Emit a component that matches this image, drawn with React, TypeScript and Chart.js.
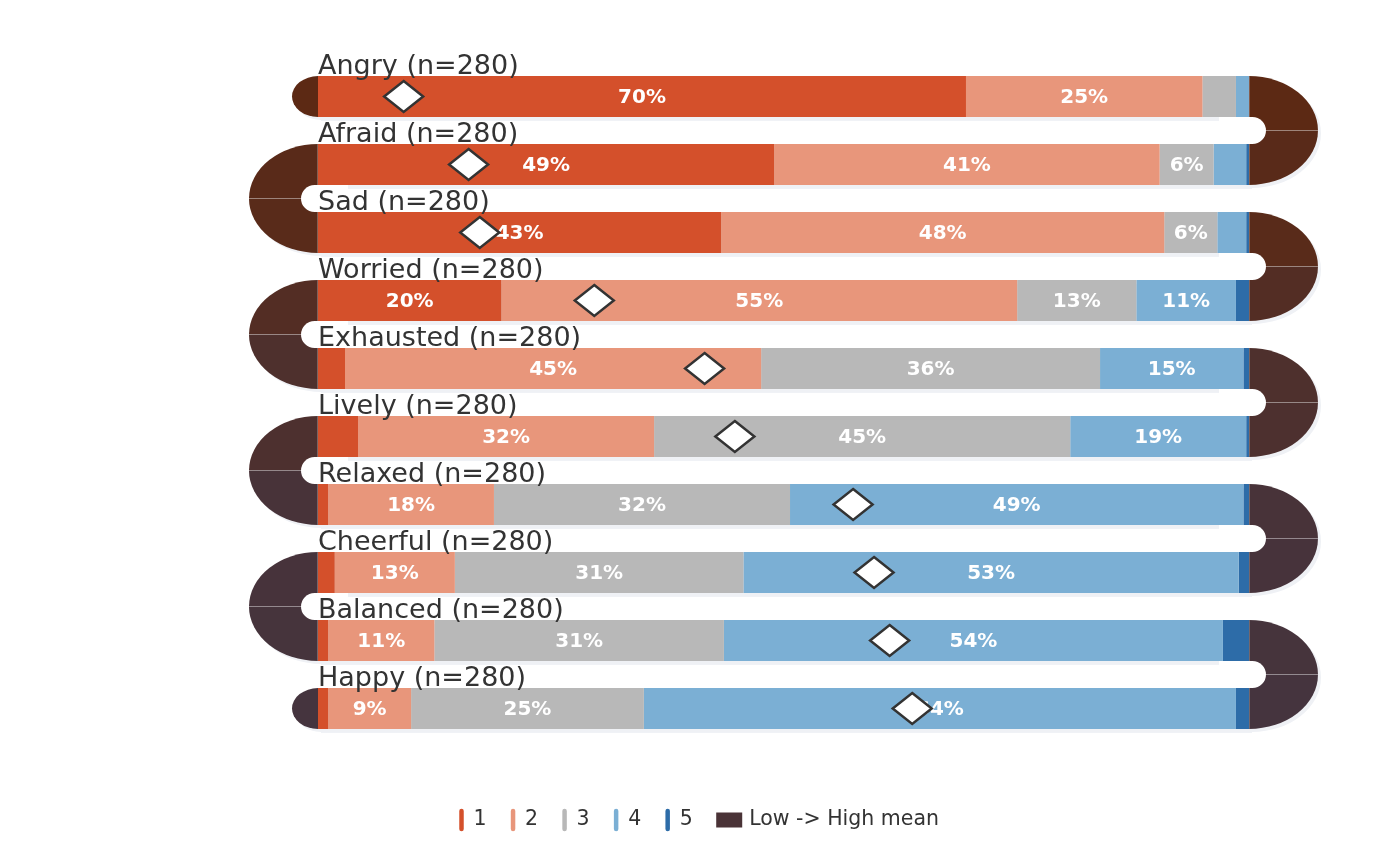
import { useEffect, useRef } from 'react';
import { Chart, registerables } from 'chart.js';

Chart.register(...registerables);

// категории и доли ответов (в процентах) по уровням 1..5
const CATEGORIES = ['Angry', 'Afraid', 'Sad', 'Worried', 'Exhausted', 'Lively', 'Relaxed', 'Cheerful', 'Balanced', 'Happy'];
const SAMPLE_N = [280, 280, 280, 280, 280, 280, 280, 280, 280, 280];
const LEVELS = ['1', '2', '3', '4', '5'];
const P1 = [69.6, 49.0, 43.3, 19.7, 2.9, 4.3, 1.1, 1.8, 1.1, 1.1];
const P2 = [25.4, 41.4, 47.6, 55.4, 44.7, 31.8, 17.8, 12.9, 11.4, 8.9];
const P3 = [3.6, 5.8, 5.7, 12.8, 36.4, 44.7, 31.8, 31.0, 31.1, 25.0];
const P4 = [1.4, 3.5, 3.1, 10.7, 15.4, 18.9, 48.7, 53.2, 53.6, 63.6];
const P5 = [0, 0.3, 0.3, 1.4, 0.6, 0.3, 0.6, 1.1, 2.8, 1.4];
const SERIES = [P1, P2, P3, P4, P5];

const LEVEL_COLORS = ['#d4502b', '#e8967b', '#b8b8b8', '#7bafd4', '#2d6ca8'];
const LOW_MEAN_COLOR = [92, 41, 20];
const HIGH_MEAN_COLOR = [69, 52, 62];
const LEGEND_MEAN_COLOR = '#4a3337';
const FONT = '"DejaVu Sans", sans-serif';

// среднее по шкале 1..5
const MEANS = CATEGORIES.map((_, i) => SERIES.reduce((s, p, k) => s + (k + 1) * p[i], 0) / 100);

const meanColor = (m: number) => {
  const lo = Math.min(...MEANS);
  const hi = Math.max(...MEANS);
  const t = (m - lo) / (hi - lo);
  const c = LOW_MEAN_COLOR.map((v, k) => Math.round(v + (HIGH_MEAN_COLOR[k] - v) * t));
  return `rgb(${c[0]}, ${c[1]}, ${c[2]})`;
};

const CAP_RX = 69;
const END_RX = 26;
const SHADOW = '#eff1f5';

const snakePlugin = {
  id: 'snake',
  beforeDatasetsDraw(chart: any) {
    const { ctx, scales } = chart;
    const left = scales.x.getPixelForValue(0);
    const right = scales.x.getPixelForValue(100);
    const rows = chart.getDatasetMeta(0).data.map((el: any) => {
      const { y, height } = el.getProps(['y', 'height'], true);
      return { top: y - height / 2, bottom: y + height / 2, y, h: height };
    });
    const n = rows.length;
    ctx.save();

    // тени под полосами
    ctx.fillStyle = SHADOW;
    rows.forEach((r: any) => ctx.fillRect(left + 3, r.top + 4, right - left, r.h));

    const quarter = (cx: number, cy: number, rx: number, ry: number, a0: number, a1: number, color: string) => {
      ctx.beginPath();
      ctx.moveTo(cx, cy);
      ctx.ellipse(cx, cy, rx, ry, 0, a0, a1, false);
      ctx.closePath();
      ctx.fillStyle = color;
      ctx.fill();
    };

    for (let i = 0; i < n - 1; i++) {
      const isRight = i % 2 === 0;
      const cx = isRight ? right : left;
      const cy = (rows[i].top + rows[i + 1].bottom) / 2;
      const ry = (rows[i + 1].bottom - rows[i].top) / 2;
      const rx = CAP_RX;
      const topA = isRight ? [-Math.PI / 2, 0] : [Math.PI, Math.PI * 1.5];
      const botA = isRight ? [0, Math.PI / 2] : [Math.PI / 2, Math.PI];
      // тень
      ctx.beginPath();
      ctx.ellipse(cx + 3, cy + 3, rx, ry, 0, isRight ? -Math.PI / 2 : Math.PI / 2, isRight ? Math.PI / 2 : Math.PI * 1.5, false);
      ctx.closePath();
      ctx.fillStyle = SHADOW;
      ctx.fill();
      quarter(cx, cy, rx, ry, topA[0], topA[1], meanColor(MEANS[i]));
      quarter(cx, cy, rx, ry, botA[0], botA[1], meanColor(MEANS[i + 1]));
      // швы
      ctx.strokeStyle = 'rgba(255,255,255,0.25)';
      ctx.lineWidth = 1;
      ctx.beginPath();
      ctx.moveTo(cx, cy);
      ctx.lineTo(isRight ? cx + rx : cx - rx, cy);
      ctx.moveTo(cx + (isRight ? 0.5 : -0.5), rows[i].top);
      ctx.lineTo(cx + (isRight ? 0.5 : -0.5), rows[i + 1].bottom);
      ctx.stroke();
      // белый просвет
      const gy = rows[i].bottom;
      const gh = rows[i + 1].top - rows[i].bottom;
      const gr = gh / 2;
      ctx.fillStyle = '#ffffff';
      ctx.beginPath();
      if (isRight) ctx.roundRect(right - 30, gy, 47, gh, [0, gr, gr, 0]);
      else ctx.roundRect(left - 17, gy, 47, gh, [gr, 0, 0, gr]);
      ctx.fill();
    }

    // концевые полукруги
    const ends = [
      { r: rows[0], m: MEANS[0], isRight: !(0 % 2 === 0) },
      { r: rows[n - 1], m: MEANS[n - 1], isRight: !((n - 2) % 2 === 0) },
    ];
    ends.forEach(({ r, m, isRight }) => {
      const cx = isRight ? right : left;
      ctx.beginPath();
      ctx.ellipse(cx + 3, r.y + 3, END_RX, r.h / 2, 0, isRight ? -Math.PI / 2 : Math.PI / 2, isRight ? Math.PI / 2 : Math.PI * 1.5, false);
      ctx.closePath();
      ctx.fillStyle = SHADOW;
      ctx.fill();
      ctx.beginPath();
      ctx.ellipse(cx, r.y, END_RX, r.h / 2, 0, isRight ? -Math.PI / 2 : Math.PI / 2, isRight ? Math.PI / 2 : Math.PI * 1.5, false);
      ctx.closePath();
      ctx.fillStyle = meanColor(m);
      ctx.fill();
    });
    ctx.restore();
  },
  afterDatasetsDraw(chart: any) {
    const { ctx, scales } = chart;
    const left = scales.x.getPixelForValue(0);
    ctx.save();

    // подписи процентов
    ctx.font = `bold 20px ${FONT}`;
    ctx.fillStyle = '#ffffff';
    ctx.textAlign = 'center';
    ctx.textBaseline = 'middle';
    chart.data.datasets.forEach((ds: any, di: number) => {
      chart.getDatasetMeta(di).data.forEach((el: any, j: number) => {
        const v = ds.data[j];
        if (v < 5) return;
        const { x, y, base } = el.getProps(['x', 'y', 'base'], true);
        ctx.fillText(`${Math.round(v)}%`, (x + base) / 2, y + 1);
      });
    });

    // ромбы средних
    const meta = chart.getDatasetMeta(0);
    MEANS.forEach((m, i) => {
      const { y, height } = meta.data[i].getProps(['y', 'height'], true);
      const x = scales.x.getPixelForValue(((m - 1) / 4) * 100);
      ctx.beginPath();
      ctx.moveTo(x, y - 15.5);
      ctx.lineTo(x + 19.5, y);
      ctx.lineTo(x, y + 15.5);
      ctx.lineTo(x - 19.5, y);
      ctx.closePath();
      ctx.fillStyle = '#ffffff';
      ctx.fill();
      ctx.strokeStyle = '#333333';
      ctx.lineWidth = 2.5;
      ctx.lineJoin = 'miter';
      ctx.stroke();

      // название категории
      ctx.font = `27px ${FONT}`;
      ctx.fillStyle = '#333333';
      ctx.textAlign = 'left';
      ctx.textBaseline = 'alphabetic';
      ctx.fillText(`${CATEGORIES[i]} (n=${SAMPLE_N[i]})`, left, y - height / 2 - 2.5);
    });
    ctx.restore();
  },
  afterDraw(chart: any) {
    const { ctx } = chart;
    ctx.save();
    ctx.font = `20.5px ${FONT}`;
    ctx.textBaseline = 'middle';
    ctx.textAlign = 'left';
    const cy = 820;
    let x = 461.5;
    LEVELS.forEach((lvl, k) => {
      ctx.strokeStyle = LEVEL_COLORS[k];
      ctx.lineWidth = 4.5;
      ctx.lineCap = 'round';
      ctx.beginPath();
      ctx.moveTo(x, cy - 9);
      ctx.lineTo(x, cy + 9);
      ctx.stroke();
      ctx.fillStyle = '#333333';
      ctx.fillText(lvl, x + 12, cy);
      x = x + 12 + ctx.measureText(lvl).width + 26.5;
    });
    x -= 3;
    ctx.fillStyle = LEGEND_MEAN_COLOR;
    ctx.fillRect(x, cy - 7.5, 26, 15);
    ctx.fillStyle = '#333333';
    ctx.fillText('Low -> High mean', x + 33, cy);
    ctx.restore();
  },
};

const SnakeBarChart = () => {
  const canvasRef = useRef<HTMLCanvasElement>(null);

  useEffect(() => {
    if (!canvasRef.current) return;
    const chart = new Chart(canvasRef.current, {
      type: 'bar',
      data: {
        labels: CATEGORIES,
        datasets: SERIES.map((p, k) => ({
          label: LEVELS[k],
          data: p,
          backgroundColor: LEVEL_COLORS[k],
          borderWidth: 0,
          barPercentage: 1,
          categoryPercentage: 0.6,
        })),
      },
      options: {
        indexAxis: 'y',
        animation: false,
        responsive: true,
        maintainAspectRatio: false,
        layout: { padding: { left: 318, right: 151, top: 62.5, bottom: 123.5 } },
        scales: {
          x: { stacked: true, min: 0, max: 100, display: false },
          y: { stacked: true, display: false },
        },
        plugins: {
          legend: { display: false },
          tooltip: { enabled: false },
        },
      },
      plugins: [snakePlugin],
    });
    return () => chart.destroy();
  }, []);

  return (
    <div style={{ position: 'fixed', left: 0, top: 0, width: 1400, height: 866, background: '#ffffff' }}>
      <canvas ref={canvasRef} />
    </div>
  );
};

export default function App() {
  return <SnakeBarChart />;
}
